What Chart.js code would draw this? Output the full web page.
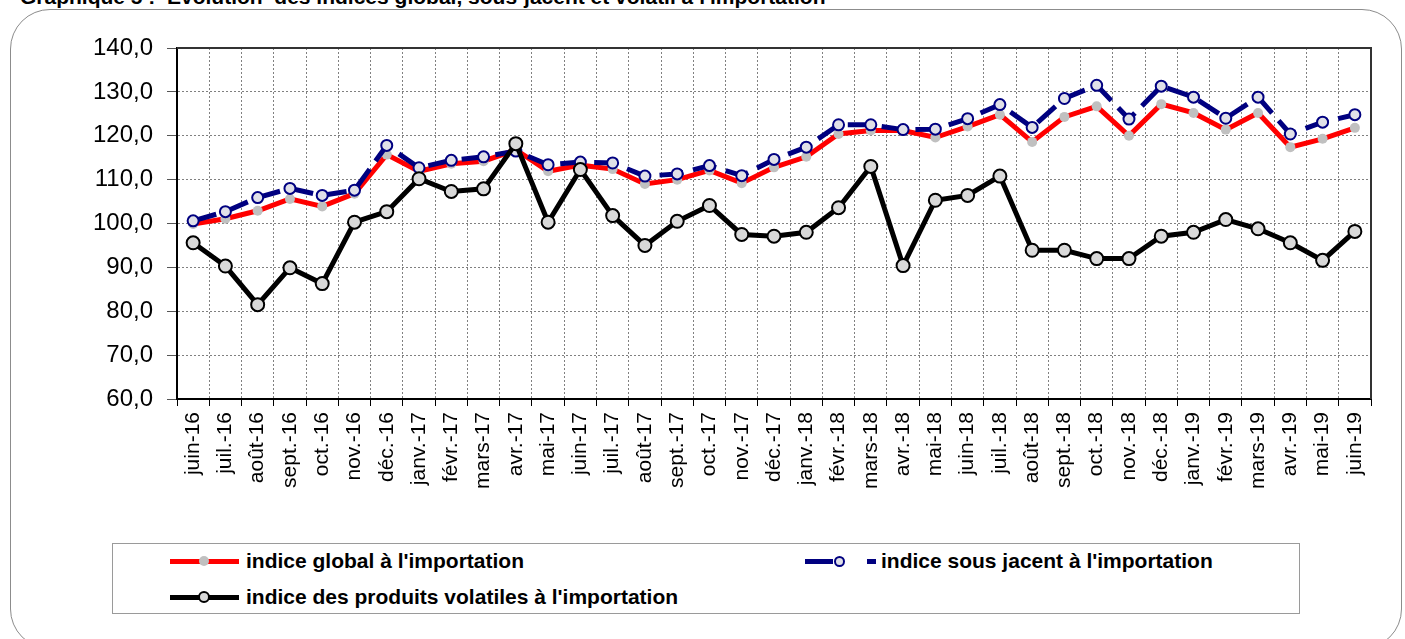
<!DOCTYPE html>
<html lang="fr">
<head>
<meta charset="utf-8">
<script src="https://cdn.jsdelivr.net/npm/chart.js@4.4.1/dist/chart.umd.min.js"></script>
<style>
body { margin: 0; width: 1405px; height: 639px; overflow: hidden; background: #fff; position: relative;
       font-family: Arial, "Liberation Sans", sans-serif; }
#title { position: absolute; left: 20px; top: -14px; font-weight: bold; font-size: 21px; line-height: 21px; white-space: pre; color: #000; }
#frame { position: absolute; left: 10px; top: 9px; width: 1392px; height: 640px; border: 1px solid #8c8c8c; border-radius: 40px; box-sizing: border-box; }
#wrap { position: absolute; left: 0; top: 0; width: 1405px; height: 530px; }
#legend { position: absolute; left: 112px; top: 543px; width: 1188px; height: 71px; border: 1px solid #9a9a9a; box-sizing: border-box; background: #fff; }
.item { position: absolute; height: 24px; }
.txt { position: absolute; top: 0; font-weight: bold; font-size: 21px; line-height: 24px; white-space: nowrap; color: #000; }
.bar { position: absolute; height: 5px; top: 10px; }
.dot { position: absolute; border-radius: 50%; box-sizing: border-box; }
</style>
</head>
<body>
<div id="title">Graphique 5 :  Evolution  des indices global, sous-jacent et volatil à l'importation</div>
<div id="frame"></div>
<div id="wrap"><canvas id="chart" width="1405" height="530"></canvas></div>
<div id="legend"></div>
<script>
const months = ['juin-16', 'juil.-16', 'août-16', 'sept.-16', 'oct.-16', 'nov.-16', 'déc.-16',
    'janv.-17', 'févr.-17', 'mars-17', 'avr.-17', 'mai-17', 'juin-17', 'juil.-17', 'août-17', 'sept.-17', 'oct.-17', 'nov.-17', 'déc.-17',
    'janv.-18', 'févr.-18', 'mars-18', 'avr.-18', 'mai-18', 'juin-18', 'juil.-18', 'août-18', 'sept.-18', 'oct.-18', 'nov.-18', 'déc.-18',
    'janv.-19', 'févr.-19', 'mars-19', 'avr.-19', 'mai-19', 'juin-19'];

const indiceGlobal = [99.9, 101.1, 102.9, 105.6, 103.9, 106.8, 115.7, 111.9, 113.6, 114.2, 116.8, 111.9, 113.3,
    112.4, 109.0, 110.0, 112.1, 109.2, 112.8, 115.2, 120.4, 121.2, 121.2, 119.6, 122.1, 124.8, 118.6, 124.3,
    126.7, 120.0, 127.2, 125.2, 121.4, 125.2, 117.4, 119.3, 121.8];

const indiceSousJacent = [100.6, 102.7, 105.9, 108.0, 106.4, 107.6, 117.8, 112.7, 114.4, 115.2, 116.5, 113.4, 114.0,
    113.8, 110.8, 111.3, 113.2, 110.9, 114.6, 117.4, 122.5, 122.5, 121.4, 121.5, 123.9, 127.1, 121.9, 128.5,
    131.5, 123.8, 131.3, 128.8, 124.0, 128.8, 120.4, 123.1, 124.8];

const indiceVolatil = [95.6, 90.3, 81.5, 89.9, 86.3, 100.3, 102.7, 110.2, 107.3, 107.9, 118.2, 100.3, 112.3,
    101.8, 95.0, 100.5, 104.1, 97.5, 97.1, 98.0, 103.6, 113.0, 90.4, 105.3, 106.4, 110.8, 93.9, 93.9,
    92.0, 92.0, 97.1, 98.0, 100.9, 98.8, 95.6, 91.6, 98.2];

const seriesNames = ["indice global à l'importation", "indice sous jacent à l'importation", "indice des produits volatiles à l'importation"];
const yMin = 60, yMax = 140, yStep = 10;

const FONT = 'Arial, "Liberation Sans", sans-serif';

// cadre haut / droite de la zone de tracé
const plotFrame = {
    id: 'plotFrame',
    beforeDatasetsDraw(chart) {
        const { ctx, chartArea: a } = chart;
        ctx.save();
        ctx.strokeStyle = '#333';
        ctx.lineWidth = 2;
        ctx.beginPath();
        ctx.moveTo(a.left, a.top);
        ctx.lineTo(a.right, a.top);
        ctx.lineTo(a.right, a.bottom);
        ctx.stroke();
        ctx.restore();
    }
};

new Chart(document.getElementById('chart').getContext('2d'), {
    type: 'line',
    data: {
        labels: months,
        datasets: [
            {
                label: seriesNames[2], data: indiceVolatil, order: 0,
                borderColor: '#000', borderWidth: 5, tension: 0,
                pointRadius: 6.5, pointBackgroundColor: '#d9d9d9', pointBorderColor: '#000', pointBorderWidth: 2
            },
            {
                label: seriesNames[1], data: indiceSousJacent, order: 1,
                borderColor: '#000080', borderWidth: 5, borderDash: [24, 10], tension: 0,
                pointRadius: 5.5, pointBackgroundColor: '#e0e0e8', pointBorderColor: '#000080', pointBorderWidth: 2
            },
            {
                label: seriesNames[0], data: indiceGlobal, order: 2,
                borderColor: '#ff0000', borderWidth: 5, tension: 0,
                pointRadius: 5, pointBackgroundColor: '#c0c0c0', pointBorderWidth: 0
            }
        ]
    },
    options: {
        responsive: false,
        animation: false,
        devicePixelRatio: 1,
        layout: { padding: { left: 0, right: 34, top: 48, bottom: 11 } },
        plugins: { legend: { display: false }, tooltip: { enabled: false } },
        scales: {
            x: {
                type: 'category',
                offset: true,
                grid: { offset: true, color: '#808080', lineWidth: 1, tickLength: 7, tickColor: '#000', tickBorderDash: [] },
                border: { color: '#000', width: 2, dash: [2, 2] },
                ticks: { color: '#000', font: { family: FONT, size: 21 }, minRotation: 90, maxRotation: 90, autoSkip: false, padding: 6 },
                afterFit(scale) { scale.height = 120; }
            },
            y: {
                min: yMin, max: yMax,
                grid: { color: '#808080', lineWidth: 1, tickLength: 10, tickColor: '#555', tickBorderDash: [] },
                border: { color: '#000', width: 2, dash: [2, 2] },
                ticks: {
                    stepSize: yStep, color: '#000', font: { family: FONT, size: 24 }, padding: 14,
                    callback: v => v.toFixed(1).replace('.', ',')
                },
                afterFit(scale) { scale.width = 177; }
            }
        }
    },
    plugins: [plotFrame]
});

// légende en HTML
const legend = document.getElementById('legend');
function addItem(cy, textX, name, parts) {
    const it = document.createElement('div');
    it.className = 'item';
    it.style.left = '0px';
    it.style.top = (cy - 12) + 'px';
    it.style.width = '1100px';
    parts.forEach(p => {
        const d = document.createElement('div');
        if (p.type === 'bar') {
            d.className = 'bar';
            d.style.left = p.x + 'px';
            d.style.width = p.w + 'px';
            d.style.background = p.color;
        } else {
            d.className = 'dot';
            d.style.left = (p.x - p.r) + 'px';
            d.style.top = (12 - p.r) + 'px';
            d.style.width = (2 * p.r) + 'px';
            d.style.height = (2 * p.r) + 'px';
            d.style.background = p.fill;
            d.style.border = p.bw ? p.bw + 'px solid ' + p.stroke : 'none';
        }
        it.appendChild(d);
    });
    const t = document.createElement('div');
    t.className = 'txt';
    t.style.left = textX + 'px';
    t.textContent = name;
    it.appendChild(t);
    legend.appendChild(it);
}
addItem(17, 133, seriesNames[0], [
    { type: 'bar', x: 57, w: 69, color: '#ff0000' },
    { type: 'dot', x: 91, r: 5, fill: '#c0c0c0', bw: 0 }
]);
addItem(17, 768, seriesNames[1], [
    { type: 'bar', x: 692, w: 28, color: '#000080' },
    { type: 'dot', x: 726, r: 5.5, fill: '#e0e0e8', stroke: '#000080', bw: 2 },
    { type: 'bar', x: 754, w: 9, color: '#000080' }
]);
addItem(53, 133, seriesNames[2], [
    { type: 'bar', x: 57, w: 69, color: '#000' },
    { type: 'dot', x: 91, r: 6, fill: '#d9d9d9', stroke: '#000', bw: 2 }
]);
</script>
</body>
</html>
